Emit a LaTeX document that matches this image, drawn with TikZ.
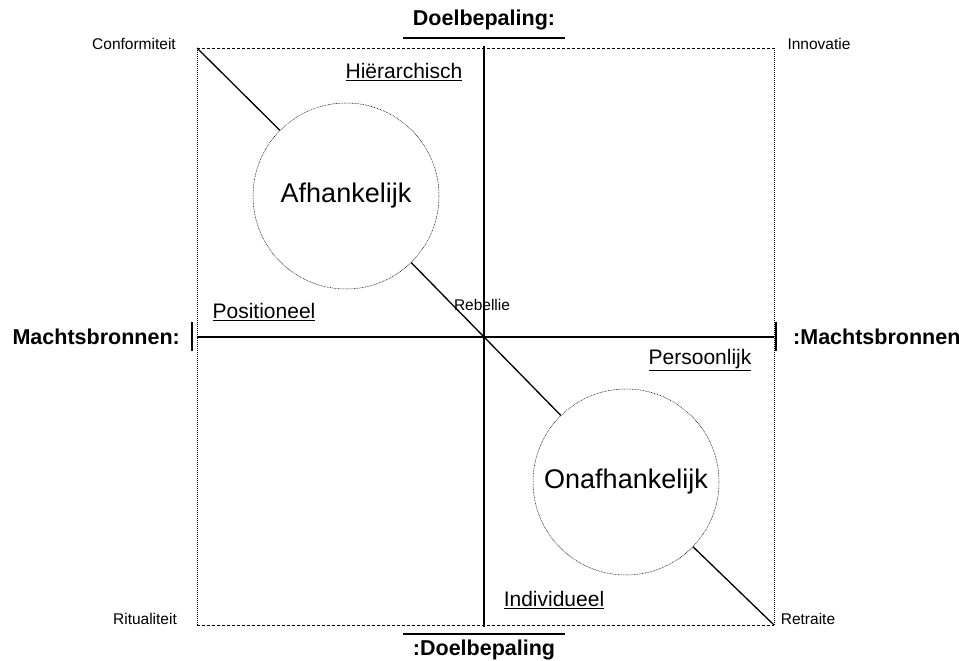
\documentclass[tikz,border=0pt]{standalone}
\usepackage{fontspec}
\setmainfont{Liberation Sans}
\begin{document}
\begin{tikzpicture}[x=1pt,y=-1pt,
  axis/.style={line width=1.3pt,black},
  frameh/.style={line width=0.6pt,dash pattern=on 3pt off 2pt},
  framev/.style={line width=0.6pt,dash pattern=on 1pt off 1pt},
  bubble/.style={circle,draw,line width=0.5pt,dash pattern=on 0.8pt off 0.8pt,fill=white,minimum size=186pt,inner sep=0pt,font=\fontsize{27}{32}\selectfont},
  corner/.style={font=\fontsize{15.5}{18}\selectfont,inner sep=0pt},
  quad/.style={font=\fontsize{21}{25}\selectfont,inner sep=0pt},
  title/.style={font=\bfseries\fontsize{21.5}{26}\selectfont,inner sep=0pt}]
\useasboundingbox (0,0) rectangle (959,661);
% frame
\coordinate (tl) at (197,48);
\coordinate (tr) at (774,48);
\coordinate (bl) at (197,625);
\coordinate (br) at (774,625);
\draw[frameh] (tl) -- (tr);
\draw[frameh] (bl) -- (br);
\draw[framev] (tl) -- (bl);
\draw[framev] (tr) -- (br);
% axes
\coordinate (top) at (484,46);
\coordinate (bot) at (484,627);
\coordinate (lft) at (197,337);
\coordinate (rgt) at (774,337);
\draw[axis] (top) -- (bot);
\draw[axis] (lft) -- (rgt);
\coordinate (lt1) at (192,322); \coordinate (lt2) at (192,351);
\coordinate (rt1) at (776,322); \coordinate (rt2) at (776,351);
\draw[axis] (lt1) -- (lt2);
\draw[axis] (rt1) -- (rt2);
% circles
\node[bubble] (c1) at (346,196) {Afhankelijk};
\node[bubble] (c2) at (626,482) {Onafhankelijk};
\draw[axis] (tl) -- (c1);
\draw[axis] (c1) -- (c2);
\draw[axis] (c2) -- (br);
% titles
\node[title] (t1) at (484,20) {Doelbepaling:};
\coordinate (u1a) at (403,38); \coordinate (u1b) at (565,38);
\draw[axis] (u1a) -- (u1b);
\node[title] (t2) at (484,650) {:Doelbepaling};
\coordinate (u2a) at (403,634); \coordinate (u2b) at (565,634);
\draw[axis] (u2a) -- (u2b);
\node[title,anchor=east] (t3) at (180,337) {Machtsbronnen:};
\node[title,anchor=west] (t4) at (793,337) {:Machtsbronnen};
% corners
\node[corner] (k1) at (134,44) {Conformiteit};
\node[corner] (k2) at (819,44) {Innovatie};
\node[corner] (k3) at (145,619) {Ritualiteit};
\node[corner] (k4) at (808,619) {Retraite};
\node[corner] (reb) at (482,305) {Rebellie};
% quadrant labels
\node[quad] (q1) at (404,72) {\underline{Hiërarchisch}};
\node[quad] (q2) at (264,312) {\underline{Positioneel}};
\node[quad] (q3) at (700,360) {\underline{Persoonlijk}};
\node[quad] (q4) at (554,600) {\underline{Individueel}};
\end{tikzpicture}
\end{document}
